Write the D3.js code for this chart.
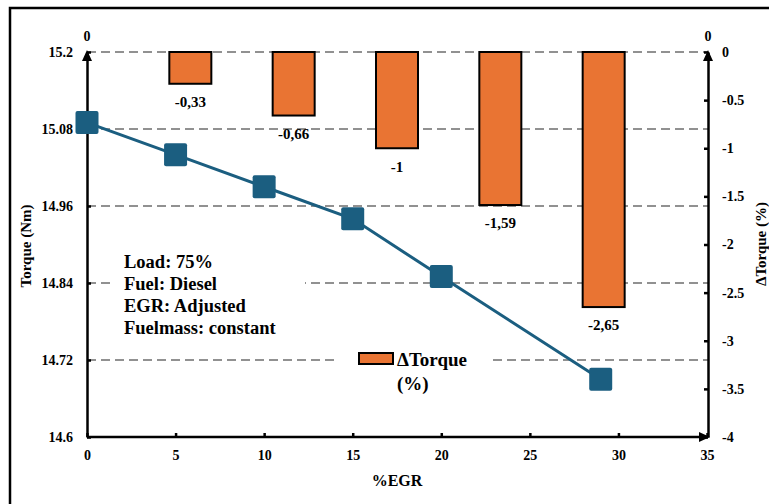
<!DOCTYPE html>
<html>
<head>
<style>
  body { margin: 0; background: #fff; }
</style>
</head>
<body>
<div id="chart"></div>
<script src="https://d3js.org/d3.v7.min.js"></script>
<script>
// torque line (left axis)
const egr = [0, 5, 10, 15, 20, 29];
const torque = [15.09, 15.04, 14.99, 14.94, 14.85, 14.69];

// delta torque bars (right axis)
const barCats = ['5', '10', '15', '20', '29'];
const deltaTorque = [-0.33, -0.66, -1, -1.59, -2.65];
const deltaLabels = ['-0,33', '-0,66', '-1', '-1,59', '-2,65'];

const leftTicks = [14.6, 14.72, 14.84, 14.96, 15.08, 15.2];
const rightTicks = [0, -0.5, -1, -1.5, -2, -2.5, -3, -3.5, -4];
const xTicks = [0, 5, 10, 15, 20, 25, 30, 35];

const noteLines = ['Load: 75%', 'Fuel: Diesel', 'EGR: Adjusted', 'Fuelmass: constant'];

const FONT = "'Liberation Serif', 'Times New Roman', Times, serif";
const W = 769, H = 504;
const svg = d3.select('#chart').append('svg').attr('width', W).attr('height', H)
  .attr('font-family', FONT).attr('font-weight', 'bold');

// outer frame
svg.append('rect').attr('x', 10).attr('y', 8).attr('width', 800).attr('height', 600)
  .attr('fill', 'none').attr('stroke', '#000').attr('stroke-width', 2.5);

const x = d3.scaleLinear().domain([0, 35]).range([87, 707]);
const yL = d3.scaleLinear().domain([14.6, 15.2]).range([437, 52]);
const yR = d3.scaleLinear().domain([-4, 0]).range([437, 52]);
const xb = d3.scalePoint().domain(barCats).range([87, 707]).padding(1);

// dashed grid
svg.append('g').selectAll('line').data(leftTicks.slice(1)).enter().append('line')
  .attr('x1', 87).attr('x2', 708)
  .attr('y1', d => yL(d)).attr('y2', d => yL(d))
  .attr('stroke', '#6e6e6e').attr('stroke-width', 1.6).attr('stroke-dasharray', '9,5');

// white boxes behind annotation + legend
svg.append('rect').attr('x', 113).attr('y', 242).attr('width', 192).attr('height', 100).attr('fill', '#fff');
svg.append('rect').attr('x', 338).attr('y', 342).attr('width', 152).attr('height', 52).attr('fill', '#fff');

// bars
const bw = 42;
svg.append('g').selectAll('rect').data(deltaTorque).enter().append('rect')
  .attr('x', (d, i) => xb(barCats[i]) - bw / 2)
  .attr('y', yR(0))
  .attr('width', bw)
  .attr('height', d => yR(d) - yR(0))
  .attr('fill', '#E97433').attr('stroke', '#000').attr('stroke-width', 2);

svg.append('g').selectAll('text').data(deltaTorque).enter().append('text')
  .attr('x', (d, i) => xb(barCats[i]))
  .attr('y', d => yR(d) + 18)
  .attr('dy', '0.35em')
  .attr('text-anchor', 'middle')
  .style('font-size', '15px')
  .text((d, i) => deltaLabels[i]);

// axes
function styleAxis(g) {
  g.attr('font-family', FONT).attr('font-weight', 'bold');
  g.select('.domain').attr('stroke', '#000').attr('stroke-width', 2.5);
  g.selectAll('.tick line').attr('stroke', '#000').attr('stroke-width', 2.5);
  g.selectAll('.tick text').style('font-size', '14px').attr('fill', '#000');
}

svg.append('g').attr('transform', 'translate(87,0)')
  .call(d3.axisLeft(yL).tickValues(leftTicks).tickFormat(d => String(d))
    .tickSizeInner(-4).tickSizeOuter(0).tickPadding(14))
  .call(styleAxis);

svg.append('g').attr('transform', 'translate(708,0)')
  .call(d3.axisRight(yR).tickValues(rightTicks).tickFormat(d => String(d))
    .tickSizeInner(-4).tickSizeOuter(0).tickPadding(14))
  .call(styleAxis);

svg.append('g').attr('transform', 'translate(0,437)')
  .call(d3.axisBottom(x).tickValues(xTicks).tickFormat(d => String(d))
    .tickSizeInner(-4).tickSizeOuter(0).tickPadding(13))
  .call(styleAxis)
  .call(g => g.select('.domain').attr('d', 'M87,0H708'));

// arrowheads
const arrows = [
  [[87, 50], [82, 61], [92, 61]],
  [[708, 50], [703, 61], [713, 61]],
  [[710, 437], [699, 432], [699, 442]]
];
svg.append('g').selectAll('path').data(arrows).enter().append('path')
  .attr('d', d => 'M' + d.join('L') + 'Z').attr('fill', '#000');

// top "0" labels
svg.append('text').attr('x', 87).attr('y', 36).attr('dy', '0.35em').attr('text-anchor', 'middle')
  .style('font-size', '14px').text('0');
svg.append('text').attr('x', 708).attr('y', 36).attr('dy', '0.35em').attr('text-anchor', 'middle')
  .style('font-size', '14px').text('0');

// torque line
const line = d3.line().x((d, i) => x(egr[i])).y(d => yL(d));
svg.append('path').datum(torque).attr('d', line)
  .attr('fill', 'none').attr('stroke', '#1B5E80').attr('stroke-width', 3);

const ms = 23;
svg.append('g').selectAll('rect').data(torque).enter().append('rect')
  .attr('x', (d, i) => x(egr[i]) - ms / 2)
  .attr('y', d => yL(d) - ms / 2)
  .attr('width', ms).attr('height', ms).attr('rx', 2)
  .attr('fill', '#1B5E80');

// axis titles
svg.append('text').attr('transform', 'translate(26,246) rotate(-90)')
  .attr('text-anchor', 'middle').attr('dy', '0.35em').style('font-size', '15px').text('Torque (Nm)');
svg.append('text').attr('transform', 'translate(761,244) rotate(-90)')
  .attr('text-anchor', 'middle').attr('dy', '0.35em').style('font-size', '15px').text('ΔTorque (%)');
svg.append('text').attr('x', 397).attr('y', 480).attr('dy', '0.35em')
  .attr('text-anchor', 'middle').style('font-size', '16px').text('%EGR');

// annotation
svg.append('g').selectAll('text').data(noteLines).enter().append('text')
  .attr('x', 124).attr('y', (d, i) => 262 + i * 21.7).attr('dy', '0.35em')
  .style('font-size', '18.5px').text(d => d);

// legend
svg.append('rect').attr('x', 359).attr('y', 353).attr('width', 34).attr('height', 11)
  .attr('fill', '#E97433').attr('stroke', '#000').attr('stroke-width', 2);
svg.append('text').attr('x', 397).attr('y', 359).attr('dy', '0.35em')
  .style('font-size', '19px').text('ΔTorque');
svg.append('text').attr('x', 397).attr('y', 383).attr('dy', '0.35em')
  .style('font-size', '19px').text('(%)');
</script>
</body>
</html>
